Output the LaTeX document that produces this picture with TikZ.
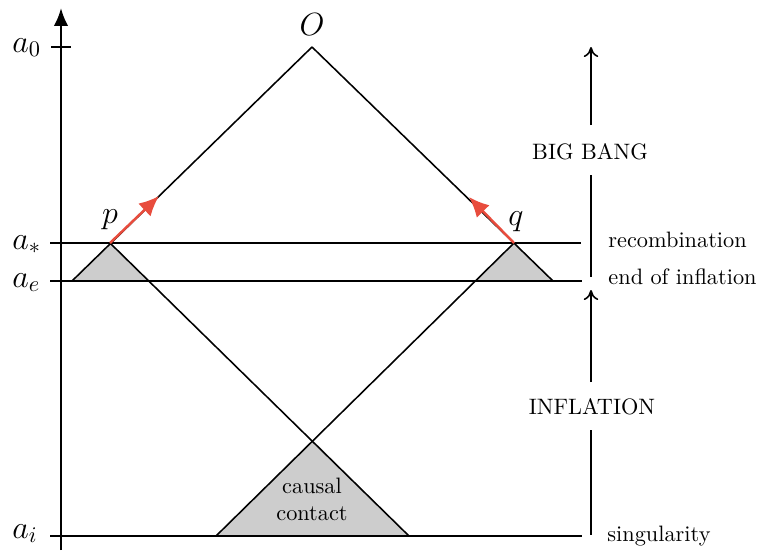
\documentclass[tikz,border=0pt]{standalone}
\usetikzlibrary{arrows.meta}
\definecolor{conered}{RGB}{232,76,61}
\definecolor{causalgray}{RGB}{205,205,205}
\begin{document}
\begin{tikzpicture}[x=0.4484pt,y=-0.4484pt,
  thinline/.style={line width=0.7pt,black},
  axisline/.style={line width=1.1pt,black,-{Latex[length=8pt,width=6.5pt]}},
  redarrow/.style={line width=1.1pt,conered,-{Latex[length=9pt,width=8pt]}},
  eraarrow/.style={line width=0.7pt,black,-{To[length=4.5pt,width=6.5pt]}},
  mathlbl/.style={inner sep=0pt,font=\Large},
  txtlbl/.style={inner sep=0pt,font=\normalsize}]
\useasboundingbox (0,0) rectangle (759,550);
% key points
\coordinate (O) at (312,47);
\coordinate (p) at (110,243);
\coordinate (q) at (514,243);
\coordinate (c) at (312.5,440);
\coordinate (pl) at (72,281);
\coordinate (pr) at (148,281);
\coordinate (ql) at (476,281);
\coordinate (qr) at (553,281);
\coordinate (bl) at (216,536);
\coordinate (br) at (409,536);
\coordinate (tl) at (159,196);
\coordinate (tr) at (469,197);
% grey triangles
\fill[causalgray] (p)--(pl)--(pr)--cycle;
\fill[causalgray] (q)--(ql)--(qr)--cycle;
\fill[causalgray] (c)--(bl)--(br)--cycle;
% horizontal lines
\coordinate (hs1) at (50,243); \coordinate (he1) at (581,243);
\coordinate (hs2) at (50,281); \coordinate (he2) at (582,281);
\coordinate (hs3) at (50,536); \coordinate (he3) at (582,536);
\draw[thinline] (hs1)--(he1);
\draw[thinline] (hs2)--(he2);
\draw[thinline] (hs3)--(he3);
% light cones
\draw[thinline] (O)--(pl);
\draw[thinline] (O)--(qr);
\draw[thinline] (p)--(br);
\draw[thinline] (q)--(bl);
% red arrows
\draw[redarrow] (p)--(tl);
\draw[redarrow] (q)--(tr);
% axis
\coordinate (ax0) at (61,550); \coordinate (ax1) at (61,8);
\draw[axisline] (ax0)--(ax1);
\coordinate (tk0) at (51,47); \coordinate (tk1) at (71,47);
\draw[line width=1.1pt] (tk0)--(tk1);
% era arrows
\coordinate (bb0) at (591,125); \coordinate (bb1) at (591,47);
\coordinate (bb2) at (591,175); \coordinate (bb3) at (591,277);
\coordinate (in0) at (591,382); \coordinate (in1) at (591,290);
\coordinate (in2) at (591,430); \coordinate (in3) at (591,535);
\draw[eraarrow] (bb0)--(bb1);
\draw[thinline] (bb2)--(bb3);
\draw[eraarrow] (in0)--(in1);
\draw[thinline] (in2)--(in3);
% labels
\node[mathlbl,anchor=base] (lO) at (312,35) {$O$};
\node[mathlbl,anchor=base] (lp) at (110,223) {$p$};
\node[mathlbl,anchor=base] (lq) at (516,225) {$q$};
\node[mathlbl,anchor=base west] (la0) at (12,52) {$a_0$};
\node[mathlbl,anchor=base west] (las) at (12,249) {$a_*$};
\node[mathlbl,anchor=base west] (lae) at (12,287) {$a_e$};
\node[mathlbl,anchor=base west] (lai) at (12,538) {$a_i$};
\node[txtlbl,anchor=base] (lbb) at (590,159) {BIG BANG};
\node[txtlbl,anchor=base] (linf) at (592,414) {INFLATION};
\node[txtlbl,anchor=base west] (lrec) at (608,247) {recombination};
\node[txtlbl,anchor=base west] (leoi) at (608,284) {end of inflation};
\node[txtlbl,anchor=base west] (lsing) at (607,541) {singularity};
\node[txtlbl,anchor=base] (lc1) at (312,493) {causal};
\node[txtlbl,anchor=base] (lc2) at (312,520) {contact};
\end{tikzpicture}
\end{document}
